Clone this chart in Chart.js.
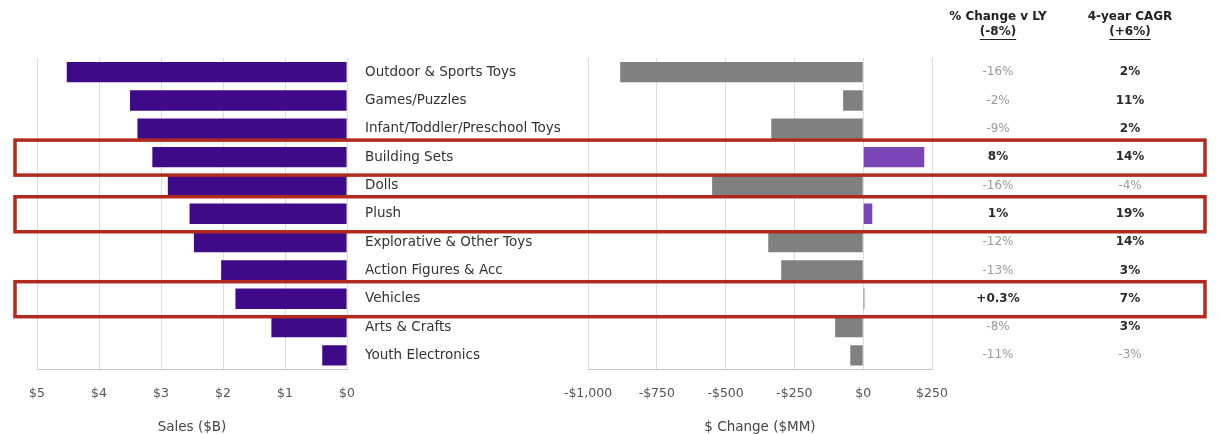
<!DOCTYPE html>
<html>
<head>
<meta charset="utf-8">
<script src="https://cdn.jsdelivr.net/npm/chart.js@4"></script>
<style>
  html, body { margin: 0; padding: 0; background: #fff; }
  #wrap { position: relative; width: 1220px; height: 434px; overflow: hidden; }
  canvas { position: absolute; top: 0; left: 0; }
</style>
</head>
<body>
<div id="wrap">
  <canvas id="salesChart" width="372" height="434"></canvas>
  <canvas id="changeChart" width="1220" height="434"></canvas>
</div>
<script>
// toy category breakdown: sales, $ change, % change, CAGR

const categories = [
  'Outdoor & Sports Toys', 'Games/Puzzles', 'Infant/Toddler/Preschool Toys',
  'Building Sets', 'Dolls', 'Plush', 'Explorative & Other Toys',
  'Action Figures & Acc', 'Vehicles', 'Arts & Crafts', 'Youth Electronics'
];
const sales = [4.52, 3.50, 3.38, 3.14, 2.89, 2.54, 2.47, 2.03, 1.80, 1.22, 0.40];   // $B
const dollarChange = [-883, -73, -334, 222, -549, 33, -345, -298, 4, -102, -47];   // $MM
const pctChange = ['-16%', '-2%', '-9%', '8%', '-16%', '1%', '-12%', '-13%', '+0.3%', '-8%', '-11%'];
const cagr = ['2%', '11%', '2%', '14%', '-4%', '19%', '14%', '3%', '7%', '3%', '-3%'];
const colHeaders = [['% Change v LY', '(-8%)'], ['4-year CAGR', '(+6%)']];
const highlightRows = ['Building Sets', 'Plush', 'Vehicles'];

const FONT = '"DejaVu Sans", Roboto, sans-serif';
const PURPLE = '#3f0a87';
const PURPLE_LT = '#7a45b4';
const GREY = '#808080';
const BOX_RED = '#b02a20';

Chart.defaults.font.family = FONT;
Chart.defaults.color = '#444';

const fmtMoney = (v) => {
  const s = '$' + Math.abs(v).toLocaleString('en-US');
  return v < 0 ? '-' + s : s;
};

const bottomAxis = (title) => ({
  grid: { color: '#dcdcdc', drawTicks: false },
  border: { color: '#c8c8c8' },
  ticks: { font: { size: 12.5 }, color: '#555', padding: 17, callback: (v) => fmtMoney(v) },
  title: { display: true, text: title, font: { size: 13.5, lineHeight: 1 }, color: '#444', padding: { top: 2, bottom: 0 } }
});

/* === LEFT: sales === */
const salesX = bottomAxis('Sales ($B)');
salesX.reverse = true;
salesX.min = 0;
salesX.max = 5;
salesX.ticks.stepSize = 1;

new Chart(document.getElementById('salesChart'), {
  type: 'bar',
  data: {
    labels: categories,
    datasets: [{ data: sales, backgroundColor: PURPLE, barPercentage: 0.72, categoryPercentage: 1 }]
  },
  options: {
    indexAxis: 'y',
    responsive: false,
    animation: false,
    events: [],
    layout: { padding: { left: 37, right: 2, top: 58, bottom: 0 } },
    scales: {
      x: salesX,
      y: { display: false }
    },
    plugins: { legend: { display: false }, tooltip: { enabled: false } }
  }
});

/* === MIDDLE: $ change + table + highlight boxes === */
const tablePlugin = {
  id: 'sideTable',
  afterDraw(chart) {
    const ctx = chart.ctx;
    const y = chart.scales.y;
    const cols = [998, 1130];
    ctx.save();

    // headers
    ctx.textAlign = 'center';
    ctx.textBaseline = 'middle';
    ctx.fillStyle = '#222';
    ctx.font = `bold 12px ${FONT}`;
    colHeaders.forEach((h, i) => {
      ctx.fillText(h[0], cols[i], 17);
      ctx.fillText(h[1], cols[i], 32);
      const w = ctx.measureText(h[1]).width;
      ctx.fillRect(cols[i] - w / 2, 39, w, 1);
    });

    // values
    [pctChange, cagr].forEach((arr, c) => {
      arr.forEach((txt, i) => {
        const neg = txt.startsWith('-');
        ctx.font = `${neg ? '' : 'bold '}12px ${FONT}`;
        ctx.fillStyle = neg ? '#9a9a9a' : '#2a2a2a';
        ctx.fillText(txt, cols[c], y.getPixelForValue(i));
      });
    });

    // red boxes round highlighted rows
    ctx.strokeStyle = BOX_RED;
    ctx.lineWidth = 3.5;
    highlightRows.forEach((name) => {
      const cy = y.getPixelForValue(categories.indexOf(name));
      ctx.strokeRect(15, cy - 17, 1190, 35);
    });
    ctx.restore();
  }
};

const changeX = bottomAxis('$ Change ($MM)');
changeX.min = -1000;
changeX.max = 250;
changeX.ticks.stepSize = 250;

new Chart(document.getElementById('changeChart'), {
  type: 'bar',
  data: {
    labels: categories,
    datasets: [{
      data: dollarChange,
      backgroundColor: dollarChange.map((v) => (v > 10 ? PURPLE_LT : v > 0 ? '#555' : GREY)),
      barPercentage: 0.72,
      categoryPercentage: 1
    }]
  },
  options: {
    indexAxis: 'y',
    responsive: false,
    animation: false,
    events: [],
    layout: { padding: { left: 365, right: 288, top: 58, bottom: 0 } },
    scales: {
      x: changeX,
      y: {
        grid: { display: false, drawTicks: false },
        border: { display: false },
        ticks: { crossAlign: 'far', padding: 0, color: '#333', font: { size: 13.5 } },
        afterFit: (s) => { s.width = 223; }
      }
    },
    plugins: { legend: { display: false }, tooltip: { enabled: false } }
  },
  plugins: [tablePlugin]
});
</script>
</body>
</html>
